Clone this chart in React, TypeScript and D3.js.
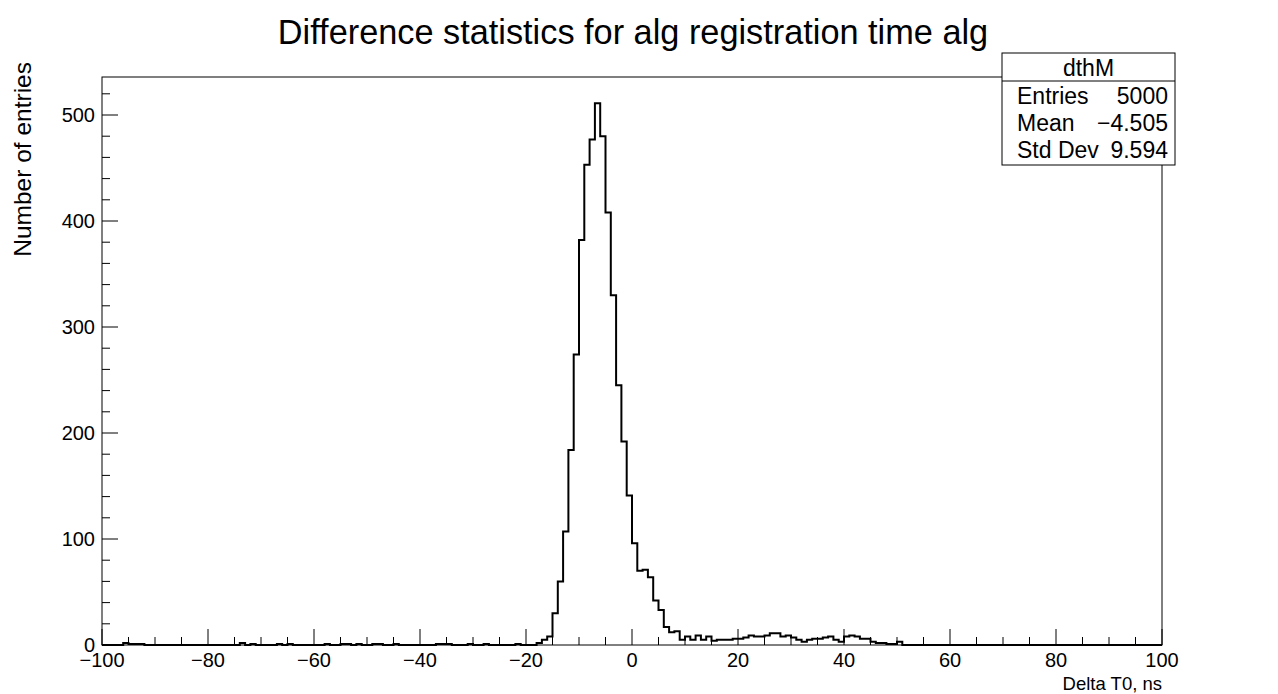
import React from "react";
import * as d3 from "d3";

const titleText = "Difference statistics for alg registration time alg";
const xAxisTitle = "Delta T0, ns";
const yAxisTitle = "Number of entries";
const histName = "dthM";
const statLabels = ["Entries", "Mean", "Std Dev"];
const statValues = ["5000", "\u22124.505", "9.594"];

const xMin = -100;
const xMax = 100;
const binWidth = 1;
// bin contents, bins [-100,-99) ... [99,100)
const counts = [
  0, 0, 0, 0, 2, 1, 1, 1, 0, 0, 0, 0, 0, 0, 0, 0, 0, 0, 0, 0,
  0, 0, 0, 0, 0, 0, 2, 0, 1, 0, 0, 0, 0, 1, 0, 1, 0, 0, 0, 0,
  0, 0, 1, 0, 0, 1, 1, 0, 1, 0, 0, 1, 1, 0, 0, 1, 0, 0, 0, 0,
  0, 0, 0, 1, 1, 1, 0, 0, 0, 1, 0, 0, 1, 0, 0, 0, 0, 0, 1, 0,
  0, 0, 2, 5, 8, 30, 60, 107, 184, 274, 382, 453, 477, 511, 480, 408, 330, 245, 192, 141,
  96, 70, 71, 64, 42, 33, 17, 12, 13, 5, 8, 5, 9, 5, 8, 4, 5, 5, 5, 6,
  6, 7, 9, 8, 8, 9, 11, 11, 8, 9, 7, 5, 3, 5, 6, 6, 7, 8, 5, 3,
  8, 9, 8, 6, 6, 3, 2, 2, 1, 1, 3, 0, 0, 0, 0, 0, 0, 0, 0, 0,
  0, 0, 0, 0, 0, 0, 0, 0, 0, 0, 0, 0, 0, 0, 0, 0, 0, 0, 0, 0,
  0, 0, 0, 0, 0, 0, 0, 0, 0, 0, 0, 0, 0, 0, 0, 0, 0, 0, 0, 0,
];
const xMajorTicks = [-100, -80, -60, -40, -20, 0, 20, 40, 60, 80, 100];
const yMajorTicks = [0, 100, 200, 300, 400, 500];
const yMax = 535.85;

const W = 1278;
const H = 694;
const FL = 102, FR = 1162, FT = 77, FB = 645;
const FONT = "'Liberation Sans', Arial, Helvetica, sans-serif";

function fmt(v: number) {
  return v < 0 ? "\u2212" + Math.abs(v) : String(v);
}

export default function App() {
  const x = d3.scaleLinear().domain([xMin, xMax]).range([FL, FR]);
  const y = d3.scaleLinear().domain([0, yMax]).range([FB, FT]);

  const pts: [number, number][] = [[xMin, 0]];
  counts.forEach((c, i) => pts.push([xMin + i * binWidth, c]));
  pts.push([xMax, counts[counts.length - 1]]);
  pts.push([xMax, 0]);
  const line = d3
    .line<[number, number]>()
    .x((d) => x(d[0]))
    .y((d) => y(d[1]))
    .curve(d3.curveStepAfter);

  const xMinor = d3.range(xMin, xMax + 0.001, 5);
  const yMinor = d3.range(0, yMax, 20);

  const bx0 = 1002, bx1 = 1175, by0 = 53, byH = 81, by1 = 165;

  return (
    <svg
      width={W}
      height={H}
      style={{ position: "absolute", left: 0, top: 0, background: "#fff" }}
      fontFamily={FONT}
    >
      <rect x={0} y={0} width={W} height={H} fill="#fff" />
      <text x={633} y={44} fontSize={34.3} textAnchor="middle" fill="#000">
        {titleText}
      </text>
      {/* frame */}
      <rect x={FL} y={FT} width={FR - FL} height={FB - FT} fill="none" stroke="#000" strokeWidth={1} />
      {/* histogram */}
      <path d={line(pts) || ""} fill="none" stroke="#000" strokeWidth={2} />
      {/* x ticks */}
      {xMinor.map((t) => (
        <line key={"xm" + t} x1={x(t)} x2={x(t)} y1={FB} y2={FB - (t % 20 === 0 ? 16 : 8)} stroke="#000" strokeWidth={1} />
      ))}
      {xMajorTicks.map((t) => (
        <text key={"xl" + t} x={x(t)} y={667} fontSize={20} textAnchor="middle">
          {fmt(t)}
        </text>
      ))}
      {/* y ticks */}
      {yMinor.map((t) => (
        <line key={"ym" + t} x1={FL} x2={FL + (t % 100 === 0 ? 16 : 8)} y1={y(t)} y2={y(t)} stroke="#000" strokeWidth={1} />
      ))}
      {yMajorTicks.map((t) => (
        <text key={"yl" + t} x={95} y={y(t) + 7} fontSize={20} textAnchor="end">
          {fmt(t)}
        </text>
      ))}
      <text x={FR} y={690} fontSize={18.5} textAnchor="end">
        {xAxisTitle}
      </text>
      <text transform={`translate(31,62) rotate(-90)`} fontSize={24.5} textAnchor="end">
        {yAxisTitle}
      </text>
      {/* stats box */}
      <rect x={bx0} y={by0} width={bx1 - bx0} height={by1 - by0} fill="#fff" stroke="#000" strokeWidth={1} />
      <line x1={bx0} x2={bx1} y1={byH} y2={byH} stroke="#000" strokeWidth={1} />
      <text x={(bx0 + bx1) / 2} y={76} fontSize={23} textAnchor="middle">
        {histName}
      </text>
      {statLabels.map((l, i) => (
        <g key={l}>
          <text x={1017} y={104 + i * 27} fontSize={23}>
            {l}
          </text>
          <text x={1168} y={104 + i * 27} fontSize={23} textAnchor="end">
            {statValues[i]}
          </text>
        </g>
      ))}
    </svg>
  );
}
